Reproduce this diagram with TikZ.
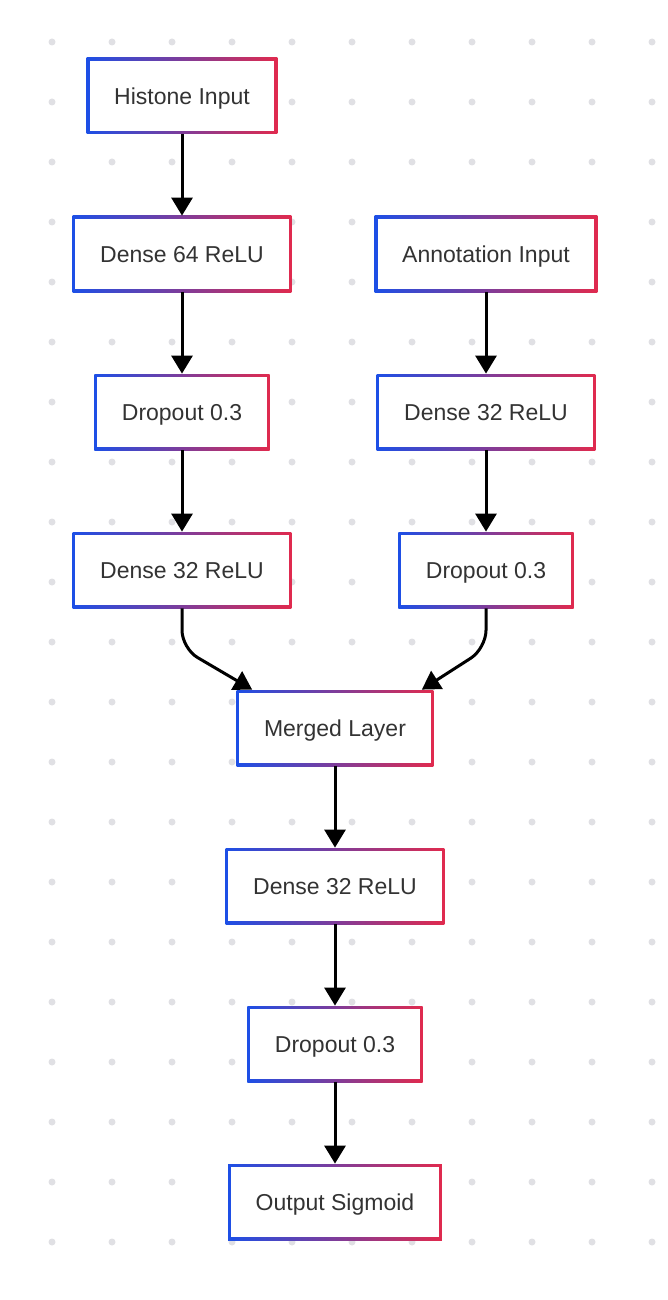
\documentclass[tikz,border=0pt]{standalone}
\usepackage{fontspec}
\setmainfont{Liberation Sans}
\usetikzlibrary{positioning, arrows.meta}

\definecolor{lblue}{HTML}{1D4FE6}
\definecolor{lred}{HTML}{E02A4E}
\definecolor{ltext}{HTML}{333333}
\definecolor{ldot}{HTML}{E0E0E4}

\tikzset{
  layer/.style={rectangle, minimum height=38pt, inner xsep=13.75pt,
    text height=8.25pt, text depth=0pt,
    font=\fontsize{11.5}{14}\selectfont, text=ltext,
    path picture={
      \shade[left color=lblue, right color=lred]
        (path picture bounding box.south west) rectangle (path picture bounding box.north east);
      \fill[white]
        ([shift={(1.4pt,1.4pt)}]path picture bounding box.south west) rectangle
        ([shift={(-1.4pt,-1.4pt)}]path picture bounding box.north east);
    }},
  flow/.style={line width=1.5pt, -{Triangle[width=10.5pt,length=9pt]}}
}

\begin{document}
\begin{tikzpicture}[node distance = 79pt, on grid]
  % background dots
  \useasboundingbox[fill=white] (0,0) rectangle (334pt,-650pt);
  \foreach \i in {0,...,10}
    \foreach \j in {0,...,20}
      \fill[ldot] (26pt+30pt*\i, -21pt-30pt*\j) circle (1.75pt);

  \node[layer] (hin) at (91pt,-48pt) {Histone Input};
  \node[layer] (hd64) [below=of hin] {Dense 64 ReLU};
  \node[layer] (hdrop) [below=of hd64] {Dropout 0.3};
  \node[layer] (hd32) [below=of hdrop] {Dense 32 ReLU};
  \node[layer] (ain) [right=152pt of hd64] {Annotation Input};
  \node[layer] (ad32) [below=of ain] {Dense 32 ReLU};
  \node[layer] (adrop) [below=of ad32] {Dropout 0.3};
  \node[layer] (merge) [below right=79pt and 76.5pt of hd32] {Merged Layer};
  \node[layer] (md32) [below=of merge] {Dense 32 ReLU};
  \node[layer] (mdrop) [below=of md32] {Dropout 0.3};
  \node[layer] (out) [below=of mdrop] {Output Sigmoid};

  \path[flow]
    (hin) edge (hd64)
    (hd64) edge (hdrop)
    (hdrop) edge (hd32)
    (ain) edge (ad32)
    (ad32) edge (adrop)
    (merge) edge (md32)
    (md32) edge (mdrop)
    (mdrop) edge (out);
  \draw[flow, rounded corners=9pt] (hd32.south) -- ++(0,-20pt) -- ([xshift=8pt]merge.north west);
  \draw[flow, rounded corners=9pt] (adrop.south) -- ++(0,-20pt) -- ([xshift=-6pt]merge.north east);
\end{tikzpicture}
\end{document}
